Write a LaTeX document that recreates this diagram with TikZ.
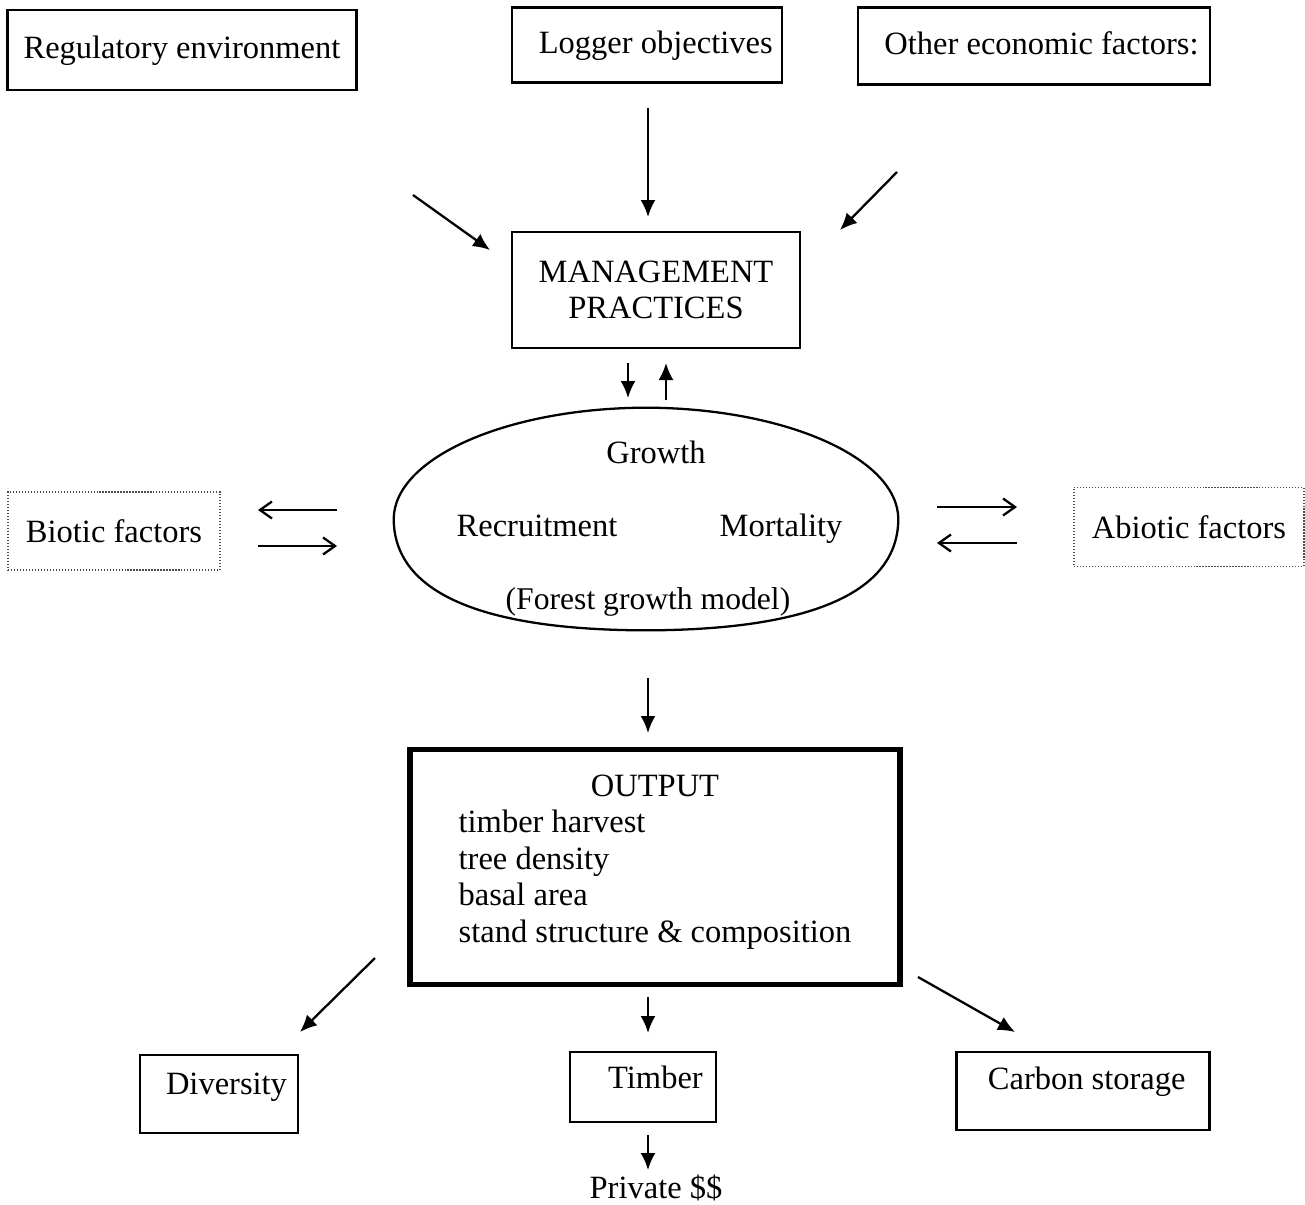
\documentclass[tikz,border=0pt]{standalone}
\usepackage{fontspec}
\setmainfont{Liberation Serif}
\usetikzlibrary{arrows.meta,shapes.geometric,positioning}
\tikzstyle{box} = [draw, line width=1.4pt, inner sep=0pt, text height=0.45cm, text depth=0.12cm]
\tikzstyle{dotbox} = [draw=black!70, densely dotted, line width=0.7pt, inner sep=0pt]
\tikzstyle{outbox} = [draw, line width=3pt, inner sep=0pt, minimum width=9.8cm, minimum height=4.7cm]
\tikzstyle{lbl} = [text height=0.45cm, text depth=0.12cm]
\tikzstyle{arrow} = [line width=1.3pt, -{Latex[length=3.4mm,width=3mm]}]
\tikzstyle{openarrow} = [line width=1.3pt, -{Straight Barb[length=2.4mm,width=3.4mm]}]

\begin{document}
\begin{tikzpicture}[x=0.02cm, y=-0.02cm, every node/.style={font=\fontsize{18.5}{20.8}\selectfont}]
\useasboundingbox (0,0) rectangle (1305,1204);
% top row
\draw (182,50) node (reg) [box, minimum width=6.98cm, minimum height=1.6cm] {Regulatory environment};
\draw (647,45) node (logger) [box, minimum width=5.4cm, minimum height=1.5cm] {\hspace{0.35cm}Logger objectives};
\draw (1034,46) node (other) [box, minimum width=7.04cm, minimum height=1.54cm] {\hspace{0.3cm}Other economic factors:};
\draw (656,290) node (mgmt) [draw, line width=1.4pt, minimum width=5.76cm, minimum height=2.32cm, align=center] {MANAGEMENT\\PRACTICES};
% forest growth model
\draw (646,519) node (model) [ellipse, minimum width=10.08cm, minimum height=4.44cm] {};
\draw[line width=1.3pt] (model.west) .. controls (394,458) and (507,408) .. (model.north)
  .. controls (785,408) and (898,458) .. (model.east)
  .. controls (898,592) and (812,630) .. (model.south)
  .. controls (480,630) and (394,592) .. (model.west) -- cycle;
\draw (656,455) node (growth) [lbl] {Growth};
\draw (537,528) node (recruit) [lbl] {Recruitment};
\draw (781,528) node (mort) [lbl] {Mortality};
\draw (648,601) node (fgm) [lbl, font=\fontsize{18}{20}\selectfont] {(Forest growth model)};
\draw (114,531) node (biotic) [dotbox, minimum width=4.24cm, minimum height=1.56cm] {Biotic factors};
\draw (1189,527) node (abiotic) [dotbox, minimum width=4.6cm, minimum height=1.58cm] {Abiotic factors};
% output
\draw (655,867) node (out) [outbox] {\begin{tabular}{@{}l@{}}\multicolumn{1}{@{}c@{}}{OUTPUT}\\timber harvest\\tree density\\basal area\\stand structure \& composition\\[0.2cm]\end{tabular}};
\draw (219,1094) node (div) [box, minimum width=3.16cm, minimum height=1.56cm, text depth=0.45cm] {\hspace{0.3cm}Diversity};
\draw (643,1087) node (timber) [box, minimum width=2.92cm, minimum height=1.4cm, text depth=0.4cm] {\hspace{0.5cm}Timber};
\draw (1083,1091) node (carbon) [box, minimum width=5.06cm, minimum height=1.56cm, text depth=0.5cm] {\hspace{0.15cm}Carbon storage};
\draw (656,1188) node (priv) {Private \$\$};
% arrow ends
\coordinate (reg-a) at (413,195);
\coordinate (reg-b) at (490,250);
\coordinate (log-a) at (648,108);
\coordinate (log-b) at (648,217);
\coordinate (oth-a) at (897,172);
\coordinate (oth-b) at (840,230);
\coordinate (dn-a) at (628,363);
\coordinate (dn-b) at (628,398);
\coordinate (up-a) at (666,400);
\coordinate (up-b) at (666,363);
\coordinate (bio-a) at (337,510);
\coordinate (bio-b) at (258,510);
\coordinate (bio-c) at (258,546);
\coordinate (bio-d) at (337,546);
\coordinate (abi-a) at (937,507);
\coordinate (abi-b) at (1017,507);
\coordinate (abi-c) at (1017,543);
\coordinate (abi-d) at (937,543);
\coordinate (mod-a) at (648,678);
\coordinate (mod-b) at (648,733);
\coordinate (div-a) at (375,958);
\coordinate (div-b) at (300,1032);
\coordinate (tim-a) at (648,997);
\coordinate (tim-b) at (648,1033);
\coordinate (car-a) at (918,977);
\coordinate (car-b) at (1015,1032);
\coordinate (prv-a) at (648,1135);
\coordinate (prv-b) at (648,1170);
% arrows
\draw[arrow] (reg-a) -- (reg-b);
\draw[arrow] (log-a) -- (log-b);
\draw[arrow] (oth-a) -- (oth-b);
\draw[arrow] (dn-a) -- (dn-b);
\draw[arrow] (up-a) -- (up-b);
\draw[openarrow] (bio-a) -- (bio-b);
\draw[openarrow] (bio-c) -- (bio-d);
\draw[openarrow] (abi-a) -- (abi-b);
\draw[openarrow] (abi-c) -- (abi-d);
\draw[arrow] (mod-a) -- (mod-b);
\draw[arrow] (div-a) -- (div-b);
\draw[arrow] (tim-a) -- (tim-b);
\draw[arrow] (car-a) -- (car-b);
\draw[arrow] (prv-a) -- (prv-b);
\end{tikzpicture}
\end{document}
